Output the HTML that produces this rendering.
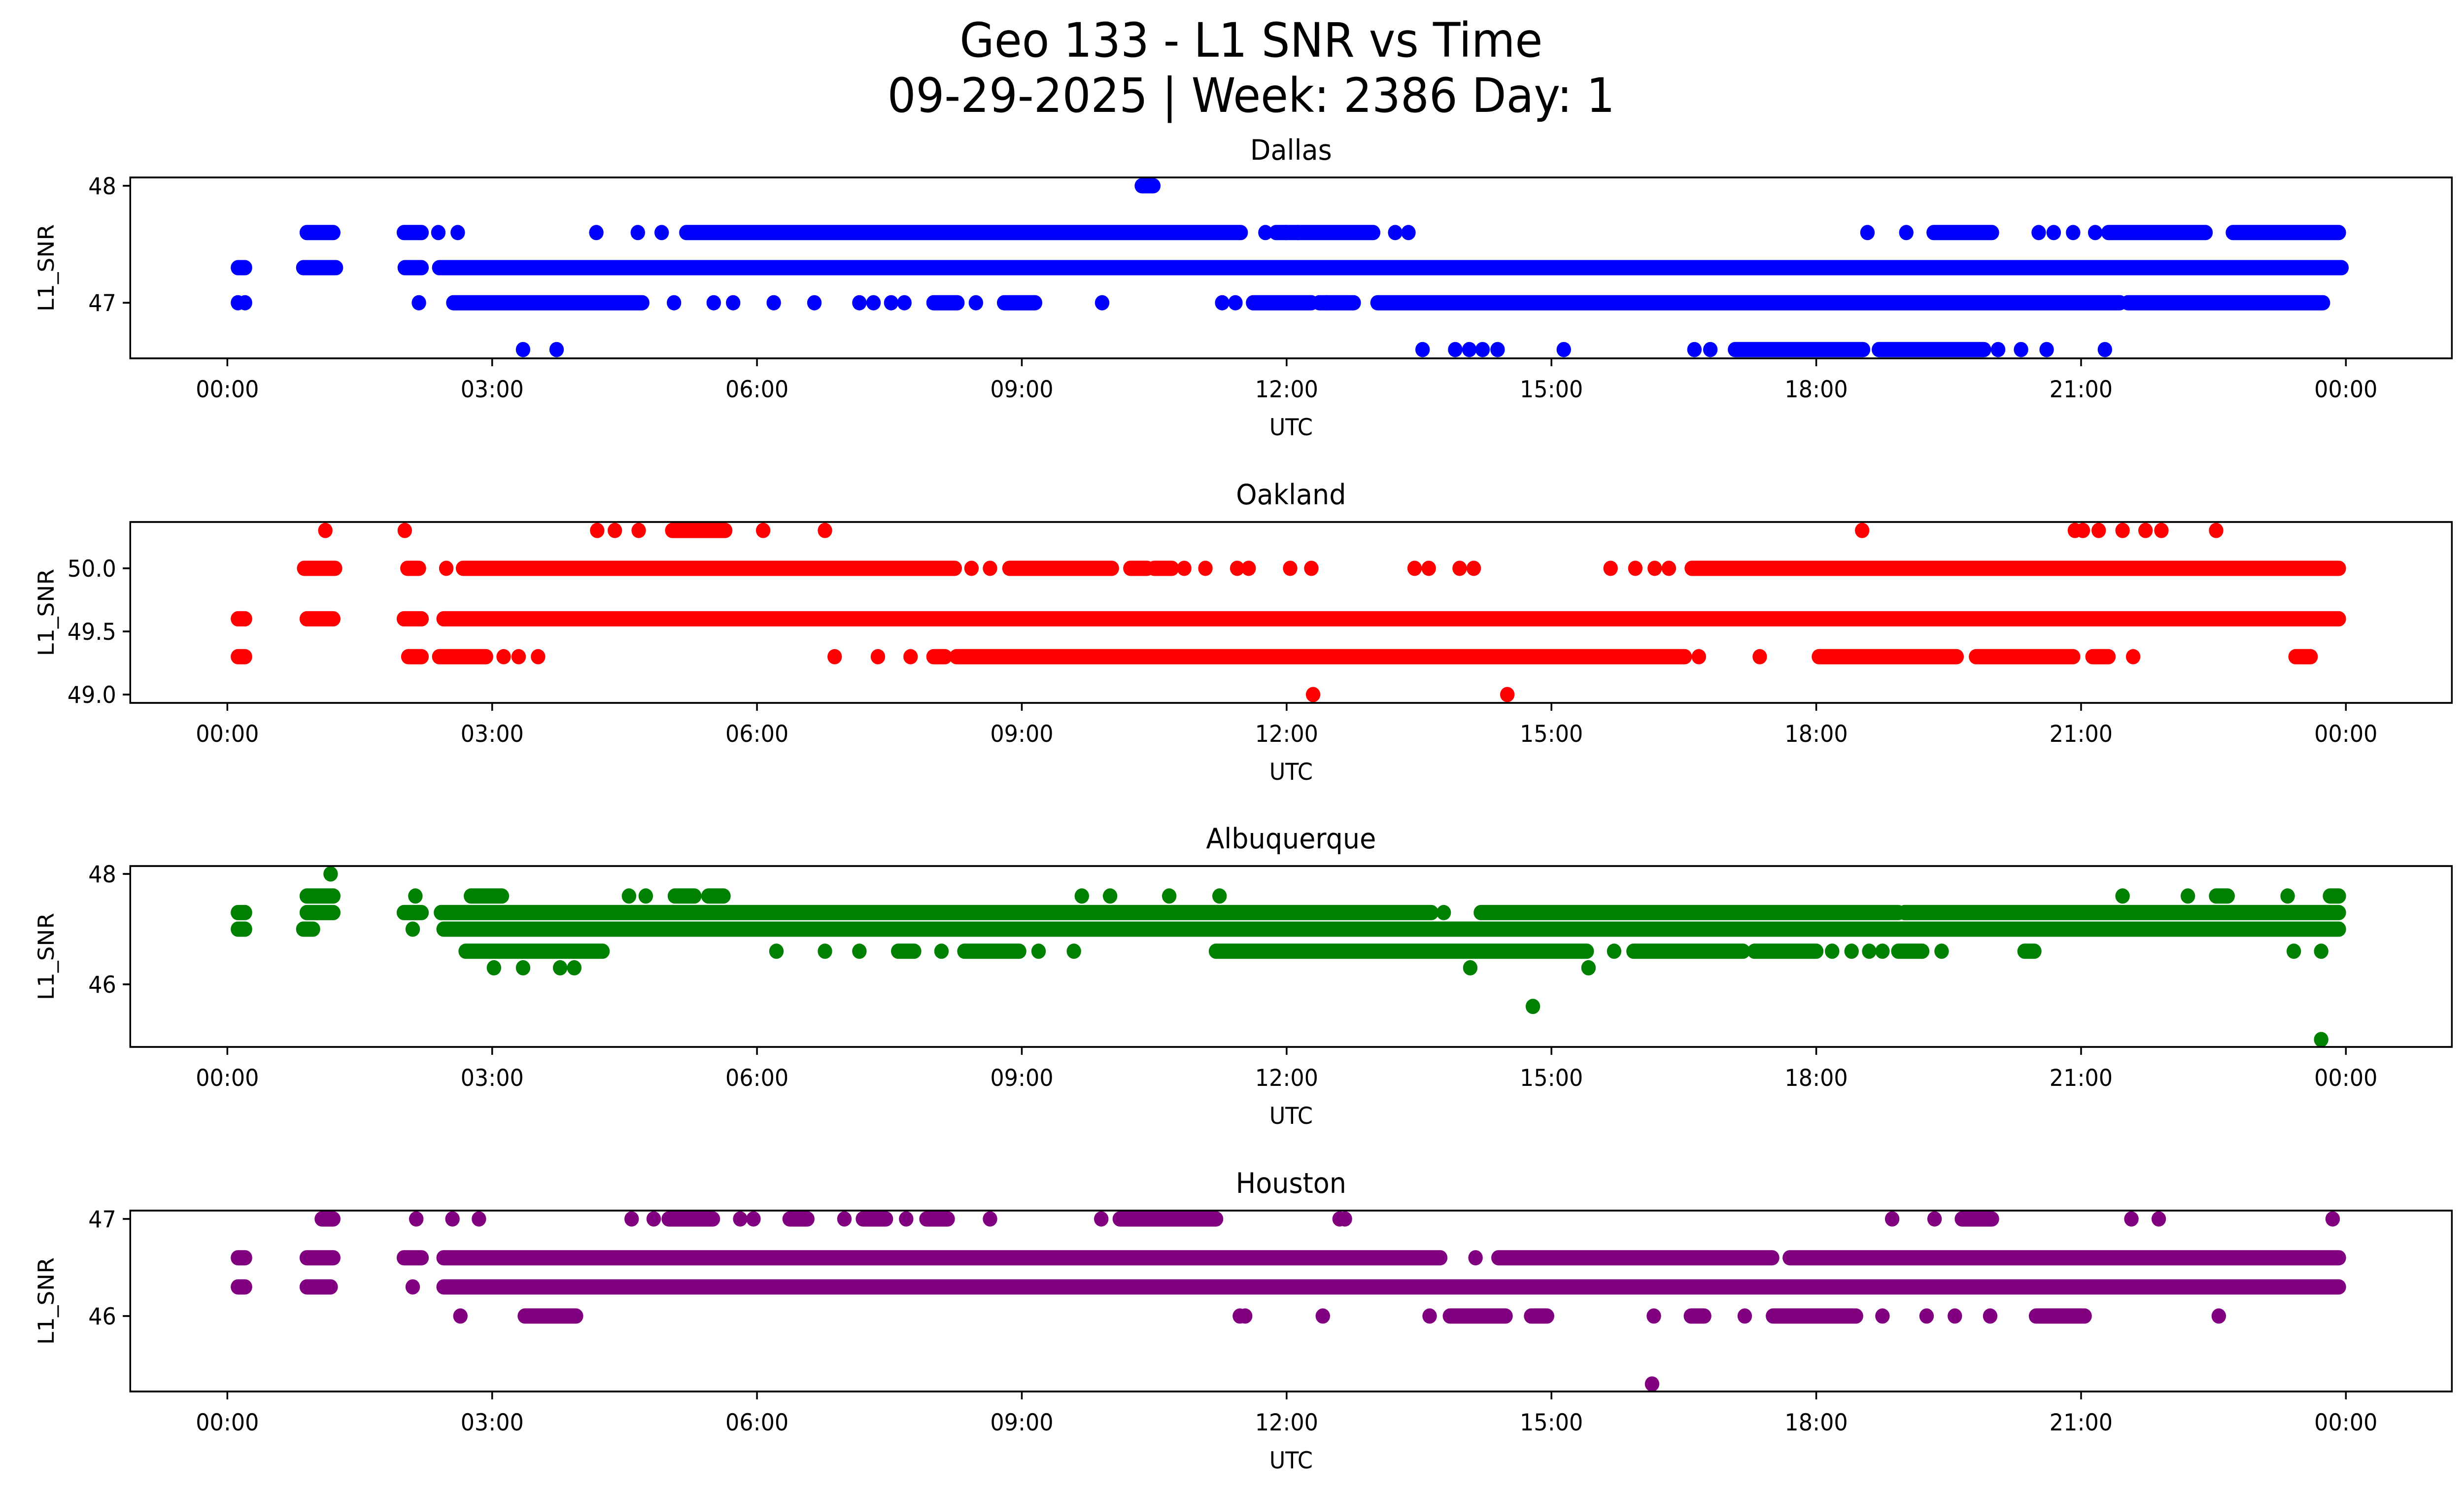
<!DOCTYPE html>
<html><head><meta charset="utf-8"><title>Geo 133 - L1 SNR vs Time</title>
<style>
html,body{margin:0;padding:0;background:#fff;width:100vw;height:100vh;overflow:hidden;}
svg{display:block;width:100vw;height:100vh;font-family:"DejaVu Sans","Liberation Sans",sans-serif;}
</style></head>
<body>
<svg id="chart" xmlns="http://www.w3.org/2000/svg" viewBox="0 0 5278 3033" preserveAspectRatio="none">
<rect x="0" y="0" width="5278" height="3033" fill="#fff"/>
<text x="2680" y="115" font-size="96" text-anchor="middle" fill="#000">Geo 133 - L1 SNR vs Time</text>
<text x="2680" y="227" font-size="96" text-anchor="middle" fill="#000">09-29-2025 | Week: 2386 Day: 1</text>
</svg>
<script>
// ---- data (hours UTC, SNR levels) ----
const xTickLabels = ["00:00","03:00","06:00","09:00","12:00","15:00","18:00","21:00","00:00"];
const xTickHours = [0,3,6,9,12,15,18,21,24];
const stationNames = ["Dallas","Oakland","Albuquerque","Houston"];
const stationColors = ["#0000ff","#ff0000","#008000","#800080"];
const dallasYTicks = [47,48];
const oaklandYTicks = [49.0,49.5,50.0];
const albuquerqueYTicks = [46,48];
const houstonYTicks = [46,47];
const dallasYDomain = [46.525,48.071];
const oaklandYDomain = [48.934,50.367];
const albuquerqueYDomain = [44.866,48.143];
const houstonYDomain = [45.223,47.086];
// runs: [snr, startHour, endHour]; points: [snr, hour]
const dallasRuns = [[47.0,2.56,4.70],[47.0,8.0,8.27],[47.0,8.8,9.15],[47.0,11.62,12.28],[47.0,12.37,12.76],[47.0,13.03,21.44],[47.0,21.53,23.74],
 [47.3,0.12,0.2],[47.3,0.86,1.23],[47.3,2.01,2.2],[47.3,2.4,23.95],
 [47.6,0.9,1.2],[47.6,2.0,2.2],[47.6,5.2,11.48],[47.6,11.88,12.98],[47.6,19.33,19.99],[47.6,21.31,22.41],[47.6,22.72,23.92],
 [48.0,10.36,10.49],[46.6,17.08,18.53],[46.6,18.71,19.9]];
const dallasPoints = [[47.0,0.12],[47.0,0.2],[47.0,2.17],[47.0,5.06],[47.0,5.51],[47.0,5.73],[47.0,6.19],[47.0,6.65],[47.0,7.16],[47.0,7.32],[47.0,7.52],[47.0,7.67],[47.0,8.48],[47.0,9.91],[47.0,11.27],[47.0,11.42],[47.0,12.45],
 [47.6,2.39],[47.6,2.61],[47.6,4.18],[47.6,4.65],[47.6,4.92],[47.6,11.76],[47.6,11.99],[47.6,12.13],[47.6,13.23],[47.6,13.38],[47.6,18.58],[47.6,19.02],[47.6,20.52],[47.6,20.69],[47.6,20.91],[47.6,21.16],
 [46.6,3.35],[46.6,3.73],[46.6,13.54],[46.6,13.91],[46.6,14.07],[46.6,14.22],[46.6,14.39],[46.6,15.14],[46.6,16.62],[46.6,16.8],[46.6,20.06],[46.6,20.32],[46.6,20.61],[46.6,21.27]];
const oaklandRuns = [[50.3,5.04,5.64],
 [50.0,0.87,1.22],[50.0,2.04,2.17],[50.0,2.67,8.24],[50.0,8.86,10.02],[50.0,10.23,10.42],[50.0,10.5,10.7],[50.0,16.59,23.92],
 [49.6,0.12,0.2],[49.6,0.9,1.2],[49.6,2.0,2.2],[49.6,2.45,23.92],
 [49.3,0.12,0.2],[49.3,2.05,2.2],[49.3,2.4,2.93],[49.3,8.0,8.13],[49.3,8.26,16.51],[49.3,18.03,19.59],[49.3,19.81,20.91],[49.3,21.13,21.31],[49.3,23.43,23.6]];
const oaklandPoints = [[50.3,1.11],[50.3,2.01],[50.3,4.19],[50.3,4.39],[50.3,4.66],[50.3,6.07],[50.3,6.77],[50.3,18.52],[50.3,20.93],[50.3,21.02],[50.3,21.2],[50.3,21.47],[50.3,21.73],[50.3,21.91],[50.3,22.53],
 [50.0,2.48],[50.0,8.43],[50.0,8.64],[50.0,10.84],[50.0,11.08],[50.0,11.44],[50.0,11.57],[50.0,12.04],[50.0,12.28],[50.0,13.45],[50.0,13.61],[50.0,13.96],[50.0,14.12],[50.0,15.67],[50.0,15.95],[50.0,16.17],[50.0,16.33],
 [49.3,3.13],[49.3,3.30],[49.3,3.52],[49.3,6.88],[49.3,7.37],[49.3,7.74],[49.3,16.67],[49.3,17.36],[49.3,21.59],
 [49.0,12.3],[49.0,14.5]];
const albuquerqueRuns = [[47.6,0.9,1.2],[47.6,2.76,3.11],[47.6,5.07,5.29],[47.6,5.45,5.62],[47.6,22.53,22.66],[47.6,23.82,23.92],
 [47.3,0.12,0.2],[47.3,0.9,1.2],[47.3,2.0,2.2],[47.3,2.42,13.64],[47.3,14.2,18.93],[47.3,19.0,23.92],
 [47.0,0.12,0.2],[47.0,0.86,0.97],[47.0,2.45,23.92],
 [46.6,2.7,4.25],[46.6,7.6,7.78],[46.6,8.35,8.97],[46.6,11.2,15.4],[46.6,15.93,17.17],[46.6,17.3,18.0],[46.6,18.93,19.2],[46.6,20.36,20.47]];
const albuquerquePoints = [[48.0,1.17],
 [47.6,2.13],[47.6,4.55],[47.6,4.74],[47.6,9.68],[47.6,10.0],[47.6,10.67],[47.6,11.24],[47.6,21.47],[47.6,22.21],[47.6,23.34],
 [47.3,13.78],[47.0,2.1],
 [46.6,6.22],[46.6,6.77],[46.6,7.16],[46.6,8.09],[46.6,9.19],[46.6,9.59],[46.6,15.71],[46.6,18.18],[46.6,18.4],[46.6,18.6],[46.6,18.75],[46.6,19.42],[46.6,23.41],[46.6,23.72],
 [46.3,3.02],[46.3,3.35],[46.3,3.77],[46.3,3.93],[46.3,14.08],[46.3,15.42],
 [45.6,14.79],[45.0,23.72]];
const houstonRuns = [[47.0,1.07,1.2],[47.0,5.0,5.5],[47.0,6.37,6.57],[47.0,7.2,7.46],[47.0,7.92,8.16],[47.0,10.11,11.2],[47.0,19.65,19.99],
 [46.6,0.12,0.2],[46.6,0.9,1.2],[46.6,2.0,2.2],[46.6,2.45,13.74],[46.6,14.4,17.5],[46.6,17.7,23.92],
 [46.3,0.12,0.2],[46.3,0.9,1.17],[46.3,2.45,23.92],
 [46.0,3.37,3.95],[46.0,13.85,14.48],[46.0,14.77,14.95],[46.0,16.58,16.73],[46.0,17.51,18.45],[46.0,20.49,21.04]];
const houstonPoints = [[47.0,2.14],[47.0,2.55],[47.0,2.85],[47.0,4.58],[47.0,4.83],[47.0,5.81],[47.0,5.96],[47.0,6.99],[47.0,7.69],[47.0,8.64],[47.0,9.9],[47.0,12.6],[47.0,12.66],[47.0,18.86],[47.0,19.34],[47.0,21.57],[47.0,21.88],[47.0,23.85],
 [46.6,14.14],[46.3,2.1],
 [46.0,2.64],[46.0,11.47],[46.0,11.53],[46.0,12.41],[46.0,13.62],[46.0,16.16],[46.0,17.19],[46.0,18.75],[46.0,19.25],[46.0,19.57],[46.0,19.97],[46.0,22.56],
 [45.3,16.14]];

const NS = "http://www.w3.org/2000/svg";
const svg = document.getElementById("chart");
const panelTops = [360,1059,1757,2456];
const panelH = 367, axL = 279, axR = 5252;
const yTickSets = [dallasYTicks,oaklandYTicks,albuquerqueYTicks,houstonYTicks];
const yDomains = [dallasYDomain,oaklandYDomain,albuquerqueYDomain,houstonYDomain];
const runSets = [dallasRuns,oaklandRuns,albuquerqueRuns,houstonRuns];
const pointSets = [dallasPoints,oaklandPoints,albuquerquePoints,houstonPoints];
const tickFmt = [v=>String(v), v=>v.toFixed(1), v=>String(v), v=>String(v)];
const R = 15.5;
function xScale(h){ return 487 + h*(5025-487)/24; }
function mk(tag, attrs, parent){ const e=document.createElementNS(NS,tag); for(const k in attrs) e.setAttribute(k,attrs[k]); (parent||svg).appendChild(e); return e; }

for(let p=0;p<4;p++){
  const top = panelTops[p], bot = top+panelH;
  const dom = yDomains[p];
  const yScale = v => bot - (v-dom[0])/(dom[1]-dom[0])*panelH;
  const g = mk("g",{});
  
  
  const clipId = "clip"+p;
  const cp = mk("clipPath",{id:clipId},g); mk("rect",{x:axL,y:top,width:axR-axL,height:panelH},cp);
  const marks = mk("g",{"clip-path":"url(#"+clipId+")"},g);
  
  
  runSets[p].forEach(r=>{
    const l = mk("line",{x1:xScale(r[1]),x2:xScale(r[2]),y1:yScale(r[0]),y2:yScale(r[0]),stroke:stationColors[p],"stroke-width":2*R,"stroke-linecap":"round"},marks);
    
    
  });
  pointSets[p].forEach(pt=>{
    const c = mk("circle",{cx:xScale(pt[1]),cy:yScale(pt[0]),r:R,fill:stationColors[p]},marks);
    
    
  });
  const frame = mk("rect",{x:axL,y:top,width:axR-axL,height:panelH,fill:"none",stroke:"#000","stroke-width":3.7},g);
  
  
  xTickHours.forEach((h,i)=>{
    const x = xScale(h);
    const t = mk("line",{x1:x,x2:x,y1:bot,y2:bot+16,stroke:"#000","stroke-width":3.7},g);
    
    
    const tl = mk("text",{x:x,y:bot+79,"font-size":47,"text-anchor":"middle",fill:"#000"},g);
    tl.textContent = xTickLabels[i];
    
    
  });
  yTickSets[p].forEach(v=>{
    const y = yScale(v);
    const t = mk("line",{x1:axL-16,x2:axL,y1:y,y2:y,stroke:"#000","stroke-width":3.7},g);
    
    
    const tl = mk("text",{x:axL-30,y:y+17,"font-size":47,"text-anchor":"end",fill:"#000"},g);
    tl.textContent = tickFmt[p](v);
    
    
  });
  const ttl = mk("text",{x:(axL+axR)/2,y:top-36,"font-size":57,"text-anchor":"middle",fill:"#000"},g);
  ttl.textContent = stationNames[p];
  
  
  const xl = mk("text",{x:(axL+axR)/2,y:bot+156,"font-size":47,"text-anchor":"middle",fill:"#000"},g);
  xl.textContent = "UTC";
  
  
  const cy = top+panelH/2;
  const yl = mk("text",{x:0,y:0,"font-size":47,"text-anchor":"middle",fill:"#000",transform:"translate(115,"+cy+") rotate(-90)"},g);
  yl.textContent = "L1_SNR";
  
  
}
</script>
</body></html>
